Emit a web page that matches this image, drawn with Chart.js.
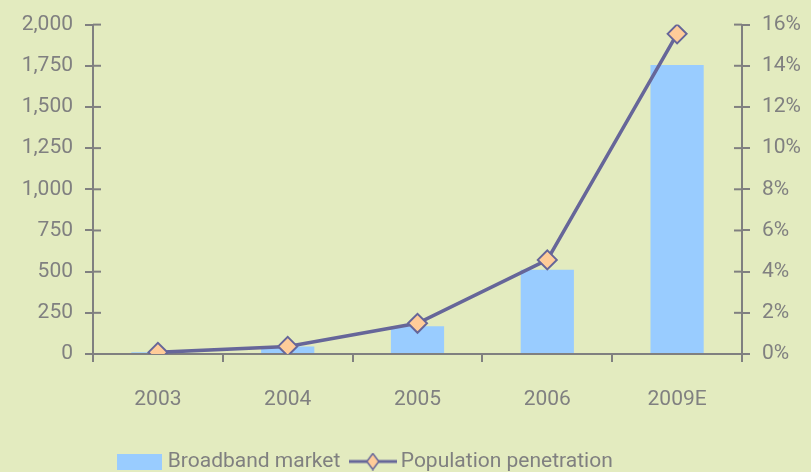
<!DOCTYPE html>
<html>
<head>
<meta charset="utf-8">
<script src="https://cdn.jsdelivr.net/npm/chart.js@4"></script>
<style>
  html, body { margin: 0; padding: 0; background: #E3EBBF; }
  #wrap { width: 811px; height: 472px; }
</style>
</head>
<body>
<div id="wrap"><canvas id="chart" width="811" height="472"></canvas></div>
<script>
// data
const years = ["2003", "2004", "2005", "2006", "2009E"];
const broadbandMarket = [10, 45, 168, 512, 1755];
const penetration = [0.08, 0.37, 1.49, 4.57, 15.55]; // percent
const leftTicks = [0, 250, 500, 750, 1000, 1250, 1500, 1750, 2000];
const rightTicks = [0, 2, 4, 6, 8, 10, 12, 14, 16];

const grey = "#808080";
const barBlue = "#99CCFF";
const lineBlue = "#666699";
const markerFill = "#FFCC99";
const tickFont = { family: "Roboto", size: 21 };

// legend swatches
function makeBarSwatch() {
  const c = document.createElement("canvas");
  c.width = 45;
  c.height = 16;
  const g = c.getContext("2d");
  g.fillStyle = barBlue;
  g.fillRect(0, 0, 45, 16);
  return c;
}

function makeLineSwatch() {
  const c = document.createElement("canvas");
  c.width = 48;
  c.height = 18;
  const g = c.getContext("2d");
  g.strokeStyle = lineBlue;
  g.lineWidth = 3;
  g.beginPath();
  g.moveTo(0, 9);
  g.lineTo(48, 9);
  g.stroke();
  g.beginPath();
  g.moveTo(24, 1);
  g.lineTo(30, 9);
  g.lineTo(24, 17);
  g.lineTo(18, 9);
  g.closePath();
  g.fillStyle = markerFill;
  g.fill();
  g.lineWidth = 1.5;
  g.stroke();
  return c;
}

const swatches = [makeBarSwatch(), makeLineSwatch()];

// small tick marks on the inner side of both value axes
const innerTicks = {
  id: "innerTicks",
  afterDraw(chart) {
    const ctx = chart.ctx;
    ["y", "y1"].forEach((id) => {
      const s = chart.scales[id];
      const left = s.position === "left";
      const x = left ? s.right : s.left;
      const dir = left ? 1 : -1;
      ctx.save();
      ctx.strokeStyle = grey;
      ctx.lineWidth = 2;
      s.ticks.forEach((t, i) => {
        const y = s.getPixelForTick(i);
        ctx.beginPath();
        ctx.moveTo(x, y);
        ctx.lineTo(x + dir * 8, y);
        ctx.stroke();
      });
      ctx.restore();
    });
  },
};

// legend sits a bit left of centre in the original
const legendNudge = {
  id: "legendNudge",
  afterLayout(chart) {
    const lg = chart.legend;
    lg.left -= 38;
    lg.right -= 38;
    lg.top += 10;
    lg.bottom += 10;
  },
};

new Chart(document.getElementById("chart"), {
  data: {
    labels: years,
    datasets: [
      {
        type: "bar",
        label: "Broadband market",
        data: broadbandMarket,
        backgroundColor: barBlue,
        borderWidth: 0,
        barPercentage: 0.41,
        categoryPercentage: 1,
        yAxisID: "y",
        order: 2,
      },
      {
        type: "line",
        label: "Population penetration",
        data: penetration,
        borderColor: lineBlue,
        borderWidth: 3.5,
        pointStyle: "rectRot",
        pointRadius: 9.5,
        pointBackgroundColor: markerFill,
        pointBorderColor: lineBlue,
        pointBorderWidth: 2,
        tension: 0,
        yAxisID: "y1",
        order: 1,
      },
    ],
  },
  options: {
    responsive: false,
    animation: false,
    layout: { padding: { top: 24, left: 0, right: 0, bottom: 0 } },
    plugins: {
      tooltip: { enabled: false },
      legend: {
        position: "bottom",
        labels: {
          color: grey,
          font: { family: "Roboto", size: 21 },
          usePointStyle: true,
          pointStyleWidth: 35,
          boxHeight: 16,
          padding: 15,
          sort: (a, b) => a.datasetIndex - b.datasetIndex,
          generateLabels(chart) {
            const items = Chart.defaults.plugins.legend.labels.generateLabels(chart);
            items.forEach((it) => {
              it.pointStyle = swatches[it.datasetIndex];
            });
            return items;
          },
        },
      },
    },
    scales: {
      x: {
        offset: true,
        border: { color: grey, width: 2 },
        grid: {
          offset: true,
          drawOnChartArea: false,
          drawTicks: true,
          tickLength: 8,
          color: grey,
          lineWidth: 2,
        },
        ticks: { color: grey, font: tickFont, padding: 25, maxRotation: 0 },
        afterFit(scale) {
          scale.height = 72;
        },
      },
      y: {
        position: "left",
        min: 0,
        max: 2000,
        afterBuildTicks(scale) {
          scale.ticks = leftTicks.map((v) => ({ value: v }));
        },
        border: { color: grey, width: 2 },
        grid: {
          drawOnChartArea: false,
          tickLength: 8,
          color: grey,
          lineWidth: 2,
        },
        ticks: {
          color: grey,
          font: tickFont,
          padding: 12,
          callback: (v) => v.toLocaleString("en-US"),
        },
        afterFit(scale) {
          scale.width = 93;
        },
      },
      y1: {
        position: "right",
        min: 0,
        max: 16,
        afterBuildTicks(scale) {
          scale.ticks = rightTicks.map((v) => ({ value: v }));
        },
        border: { color: grey, width: 2 },
        grid: {
          drawOnChartArea: false,
          tickLength: 8,
          color: grey,
          lineWidth: 2,
        },
        ticks: {
          color: grey,
          font: tickFont,
          padding: 12,
          callback: (v) => v + "%",
        },
        afterFit(scale) {
          scale.width = 69;
        },
      },
    },
  },
  plugins: [innerTicks, legendNudge],
});
</script>
</body>
</html>
